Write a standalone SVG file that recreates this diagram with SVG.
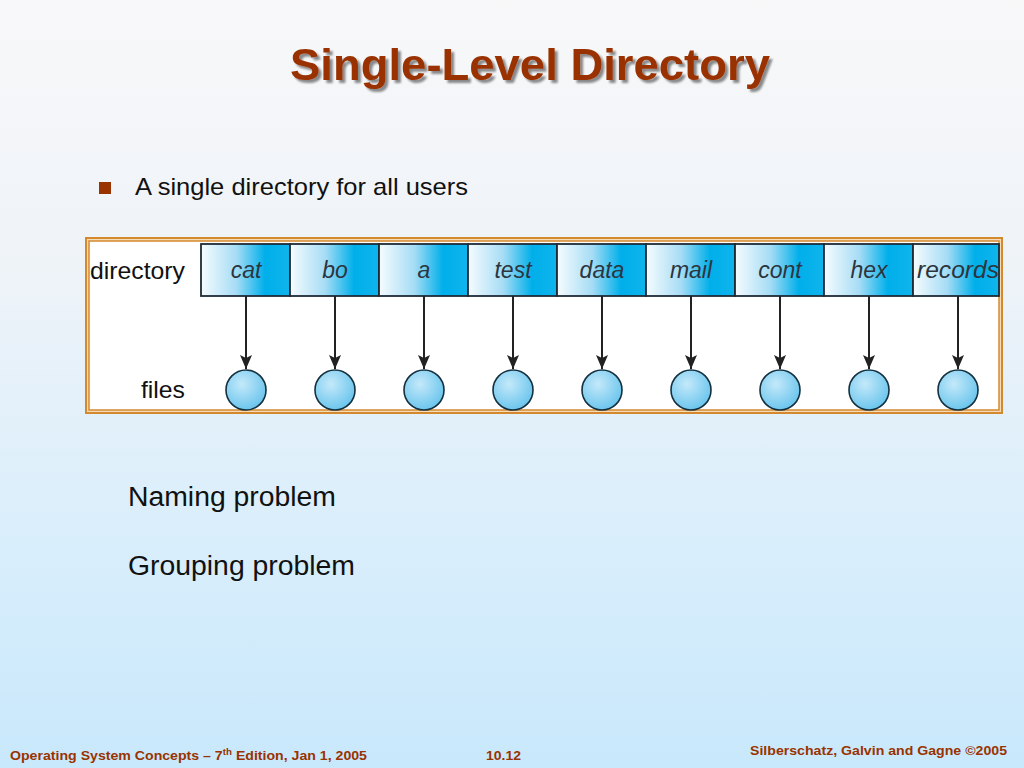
<svg xmlns="http://www.w3.org/2000/svg" width="1024" height="768" viewBox="0 0 1024 768">
<defs>
<linearGradient id="bg" x1="0" y1="0" x2="0" y2="1">
<stop offset="0" stop-color="#f8f8f9"/>
<stop offset="0.35" stop-color="#eef3f8"/>
<stop offset="0.7" stop-color="#d9eefb"/>
<stop offset="1" stop-color="#c8e8fb"/>
</linearGradient>
<linearGradient id="cell" x1="0" y1="0" x2="1" y2="0">
<stop offset="0" stop-color="#f6fcfe"/>
<stop offset="0.4" stop-color="#a5dcf5"/>
<stop offset="0.72" stop-color="#00afea"/>
<stop offset="1" stop-color="#10b4ec"/>
</linearGradient>
<radialGradient id="ball" cx="0.4" cy="0.35" r="0.7">
<stop offset="0" stop-color="#c4e9fa"/>
<stop offset="1" stop-color="#66c3ec"/>
</radialGradient>
<marker id="ah" viewBox="0 0 12 14" refX="6" refY="14" markerWidth="12" markerHeight="14" markerUnits="userSpaceOnUse" orient="0">
<path d="M0,0 L6,3 L12,0 L6,14 Z" fill="#222"/>
</marker>
<filter id="sh" x="-5%" y="-20%" width="110%" height="140%">
<feGaussianBlur in="SourceAlpha" stdDeviation="1"/>
<feOffset dx="3" dy="3" result="o"/>
<feComponentTransfer><feFuncA type="linear" slope="0.45"/></feComponentTransfer>
<feMerge><feMergeNode/><feMergeNode in="SourceGraphic"/></feMerge>
</filter>
</defs>
<style>
.cellr{fill:url(#cell);stroke:#1e2b36;stroke-width:1.8}
.lbl{font-family:"Liberation Sans",Arial,sans-serif;font-style:italic;font-size:23px;fill:#2b3540;text-anchor:middle}
.file{fill:url(#ball);stroke:#15303e;stroke-width:1.6}
.conn line{stroke:#222;stroke-width:2;marker-end:url(#ah)}
.body{font-family:"Liberation Sans",Arial,sans-serif;fill:#111}
.foot{font-family:"Liberation Sans",Arial,sans-serif;font-weight:bold;font-size:13px;fill:#993300}
</style>
<rect width="1024" height="768" fill="url(#bg)"/>
<g id="title">
<text x="290" y="80" font-family="'Liberation Sans',Arial,sans-serif" font-weight="bold" font-size="45" fill="#993300" textLength="480" lengthAdjust="spacingAndGlyphs" filter="url(#sh)">Single-Level Directory</text>
</g>
<g id="bullet">
<rect x="99" y="182" width="12" height="12" fill="#993300"/>
<text class="body" x="135" y="195" font-size="24" textLength="333" lengthAdjust="spacingAndGlyphs">A single directory for all users</text>
</g>
<g id="frame">
<rect x="86" y="238" width="916" height="175" fill="#f4dcb8" stroke="#d5892f" stroke-width="2"/>
<rect x="89" y="241" width="910" height="169" fill="#ffffff" stroke="#d5892f" stroke-width="1.5"/>
<text class="body" x="90" y="279" font-size="24" fill="#333" textLength="95" lengthAdjust="spacingAndGlyphs">directory</text>
<text class="body" x="141" y="398" font-size="24" fill="#333" textLength="44" lengthAdjust="spacingAndGlyphs">files</text>
</g>
<g id="dir-cat"><rect class="cellr" x="201" y="244" width="89" height="52"/><text class="lbl" x="246" y="278">cat</text></g>
<g id="dir-bo"><rect class="cellr" x="290" y="244" width="89" height="52"/><text class="lbl" x="335" y="278">bo</text></g>
<g id="dir-a"><rect class="cellr" x="379" y="244" width="89" height="52"/><text class="lbl" x="424" y="278">a</text></g>
<g id="dir-test"><rect class="cellr" x="468" y="244" width="89" height="52"/><text class="lbl" x="513" y="278">test</text></g>
<g id="dir-data"><rect class="cellr" x="557" y="244" width="89" height="52"/><text class="lbl" x="602" y="278">data</text></g>
<g id="dir-mail"><rect class="cellr" x="646" y="244" width="89" height="52"/><text class="lbl" x="691" y="278">mail</text></g>
<g id="dir-cont"><rect class="cellr" x="735" y="244" width="89" height="52"/><text class="lbl" x="780" y="278">cont</text></g>
<g id="dir-hex"><rect class="cellr" x="824" y="244" width="89" height="52"/><text class="lbl" x="869" y="278">hex</text></g>
<g id="dir-records"><rect class="cellr" x="913" y="244" width="86" height="52"/><text class="lbl" x="958" y="278" textLength="82" lengthAdjust="spacingAndGlyphs">records</text></g>
<g id="files">
<circle id="file-1" class="file" cx="246" cy="390" r="20"/>
<circle id="file-2" class="file" cx="335" cy="390" r="20"/>
<circle id="file-3" class="file" cx="424" cy="390" r="20"/>
<circle id="file-4" class="file" cx="513" cy="390" r="20"/>
<circle id="file-5" class="file" cx="602" cy="390" r="20"/>
<circle id="file-6" class="file" cx="691" cy="390" r="20"/>
<circle id="file-7" class="file" cx="780" cy="390" r="20"/>
<circle id="file-8" class="file" cx="869" cy="390" r="20"/>
<circle id="file-9" class="file" cx="958" cy="390" r="20"/>
</g>
<g id="connectors" class="conn">
<line x1="246" y1="296" x2="246" y2="369"/>
<line x1="335" y1="296" x2="335" y2="369"/>
<line x1="424" y1="296" x2="424" y2="369"/>
<line x1="513" y1="296" x2="513" y2="369"/>
<line x1="602" y1="296" x2="602" y2="369"/>
<line x1="691" y1="296" x2="691" y2="369"/>
<line x1="780" y1="296" x2="780" y2="369"/>
<line x1="869" y1="296" x2="869" y2="369"/>
<line x1="958" y1="296" x2="958" y2="369"/>
</g>
<g id="problems">
<text class="body" x="128" y="506" font-size="27" textLength="208" lengthAdjust="spacingAndGlyphs">Naming problem</text>
<text class="body" x="128" y="575" font-size="27" textLength="227" lengthAdjust="spacingAndGlyphs">Grouping problem</text>
</g>
<g id="footer">
<text class="foot" x="10" y="760" textLength="357" lengthAdjust="spacingAndGlyphs">Operating System Concepts – 7<tspan font-size="9" dy="-5">th</tspan><tspan dy="5"> Edition, Jan 1, 2005</tspan></text>
<text class="foot" x="486" y="760" textLength="35" lengthAdjust="spacingAndGlyphs">10.12</text>
<text class="foot" x="750" y="755" textLength="257" lengthAdjust="spacingAndGlyphs">Silberschatz, Galvin and Gagne ©2005</text>
</g>
</svg>
